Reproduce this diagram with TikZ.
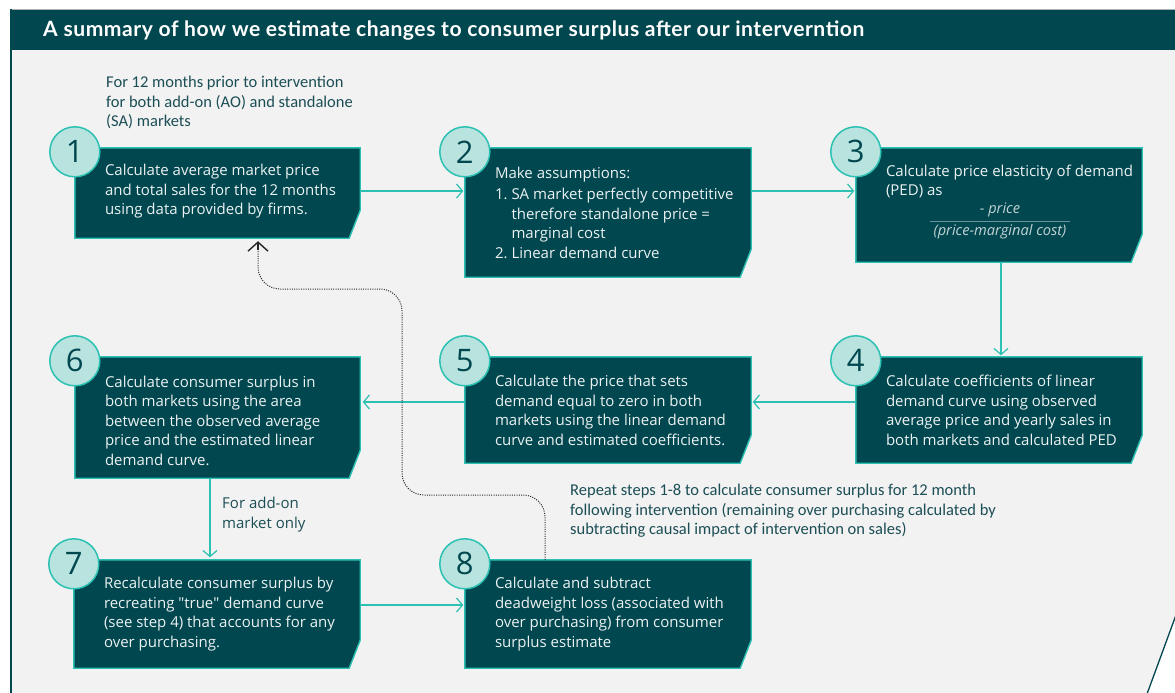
\documentclass[tikz,border=0pt]{standalone}
\usepackage{fontspec}
\setmainfont{Open Sans}
\newfontfamily\titlefont[LetterSpace=2.5]{Lato}
\newfontfamily\notefont{Carlito}
\usetikzlibrary{arrows.meta}

\definecolor{deep}{HTML}{00474F}
\definecolor{aqua}{HTML}{2CC1B3}
\definecolor{pale}{HTML}{B9E3DF}
\definecolor{panel}{HTML}{F2F2F2}
\definecolor{inktext}{HTML}{1B4E55}
\definecolor{boxtext}{HTML}{ECF2F2}
\definecolor{fractext}{HTML}{C3D3D4}

\tikzset{
  stepbox/.style={rectangle, draw=none, inner sep=0pt, minimum width=#1},
  boxshape/.style={fill=deep, draw=aqua, line width=1.4pt, line join=miter},
  numdisc/.style={circle, fill=pale, draw=aqua, line width=1.5pt, minimum size=50pt,
    inner sep=0pt, text=deep, font=\fontsize{31}{31}\selectfont},
  boxtxt/.style={anchor=west, inner sep=0pt, align=left, text=boxtext,
    font=\fontsize{15}{19.5}\selectfont},
  notetxt/.style={anchor=west, inner sep=0pt, align=left, text=inktext,
    font=\notefont\fontsize{16.5}{19.5}\selectfont},
  flow/.style={draw=aqua, line width=1.2pt, -{Straight Barb[length=6pt,width=14pt]}},
  loopback/.style={draw=black!85, line width=1pt, dash pattern=on 1pt off 1.3pt,
    rounded corners=22pt},
  loophead/.style={draw=black!85, line width=1.4pt, solid,
    -{Straight Barb[length=9pt,width=20pt]}},
}

% chamfered step box drawn on the anchors of a node
\newcommand{\cutbox}[1]{%
  \filldraw[boxshape] (#1.north west) -- (#1.north east)
    -- ([yshift=28pt]#1.south east) -- ([xshift=-11pt]#1.south east)
    -- (#1.south west) -- cycle;}

\begin{document}
\begin{tikzpicture}[x=1pt,y=-1pt]
\useasboundingbox (0,0) rectangle (1175,693);
\fill[white] (0,0) rectangle (1175,693);

% frame: header band and light panel with cut corner
\fill[panel] (10,50) -- (1175,50) -- (1175,616) -- (1147,693) -- (10,693) -- cycle;
\fill[deep] (10,9) rectangle (1175,50);
\draw[gray!60, line width=0.6pt] (10,9) -- (1175,9);
\draw[deep, line width=1.5pt] (10.8,9) -- (10.8,693);
\draw[deep, line width=1.3pt] (1176,615) -- (1147,694);
\node[anchor=west, inner sep=0pt, text=white, font=\titlefont\bfseries\fontsize{21.1}{24}\selectfont]
  (title) at (43,30.5) {A summary of how we estimate changes to consumer surplus after our interverntion};

% step boxes
\node[stepbox=285pt, minimum height=90pt]  (b1) at (217.5,193) {};
\node[stepbox=286pt, minimum height=129pt] (b2) at (608,212.5) {};
\node[stepbox=286pt, minimum height=114pt] (b3) at (999,205) {};
\node[stepbox=286pt, minimum height=106pt] (b4) at (999,410) {};
\node[stepbox=286pt, minimum height=106pt] (b5) at (608,410) {};
\node[stepbox=285pt, minimum height=121pt] (b6) at (217.5,417.5) {};
\node[stepbox=286pt, minimum height=108pt] (b7) at (217,614) {};
\node[stepbox=286pt, minimum height=108pt] (b8) at (608,614) {};
\foreach \b in {b1,b2,b3,b4,b5,b6,b7,b8} {\cutbox{\b}}

% numbered discs
\foreach \b/\n in {b1/1,b2/2,b3/3,b4/4,b5/5,b6/6,b7/7,b8/8}
  \node[numdisc] (n\n) at ([yshift=-4pt]\b.north west) {\n};

% box texts
\node[boxtxt] (t1) at ([xshift=30pt]b1.west |- 0,191.5)
  {Calculate average market price\\and total sales for the 12 months\\using data provided by firms.};
\node[boxtxt] (t2) at ([xshift=30pt]b2.west |- 0,212.5)
  {Make assumptions:\\[2pt]
   \makebox[16.5pt][l]{1.}SA market perfectly competitive\\
   \hspace*{16.5pt}therefore standalone price =\\
   \hspace*{16.5pt}marginal cost\\
   \makebox[16.5pt][l]{2.}Linear demand curve};
\node[boxtxt] (t3) at ([xshift=30pt]b3.west |- 0,181.5)
  {Calculate price elasticity of demand\\(PED) as};
\node[inner sep=0pt, text=fractext, font=\itshape\fontsize{14.6}{16}\selectfont]
  (num) at (1000,210) {- price};
\node[inner sep=0pt, text=fractext, font=\itshape\fontsize{14.6}{16}\selectfont]
  (den) at (1000,232) {(price-marginal cost)};
\draw[draw=fractext!55!deep, line width=0.6pt] (930,221) coordinate (fl) -- (1070,221) coordinate (fr);
\node[boxtxt] (t4) at ([xshift=30pt]b4.west |- 0,410.5)
  {Calculate coefficients of linear\\demand curve using observed\\average price and yearly sales in\\both markets and calculated PED};
\node[boxtxt] (t5) at ([xshift=30pt]b5.west |- 0,410.5)
  {Calculate the price that sets\\demand equal to zero in both\\markets using the linear demand\\curve and estimated coefficients.};
\node[boxtxt] (t6) at ([xshift=30pt]b6.west |- 0,420.5)
  {Calculate consumer surplus in\\both markets using the area\\between the observed average\\price and the estimated linear\\demand curve.};
\node[boxtxt] (t7) at ([xshift=30pt]b7.west |- 0,614)
  {Recalculate consumer surplus by\\recreating \textquotedbl true\textquotedbl\ demand curve\\(see step 4) that accounts for any\\over purchasing.};
\node[boxtxt] (t8) at ([xshift=30pt]b8.west |- 0,614)
  {Calculate and subtract\\deadweight loss (associated with\\over purchasing) from consumer\\surplus estimate};

% notes
\node[notetxt] (pre) at (106,102.5)
  {For 12 months prior to intervention\\for both add-on (AO) and standalone\\(SA) markets};
\node[notetxt] (rep) at (570,511)
  {Repeat steps 1-8 to calculate consumer surplus for 12 month\\following intervention (remaining over purchasing calculated by\\subtracting causal impact of intervention on sales)};
\node[anchor=west, inner sep=0pt, align=left, text=inktext, font=\fontsize{15}{19.5}\selectfont]
  (aoonly) at (222,514.5) {For add-on\\market only};

% connectors
\draw[flow] (b1.east |- 0,191) -- ([xshift=-1.5pt]b2.west |- 0,191);
\draw[flow] (b2.east |- 0,191) -- ([xshift=-1.5pt]b3.west |- 0,191);
\draw[flow] (1001,0 |- b3.south) -- ([yshift=1.5pt]1001,0 |- b4.north);
\draw[flow] (b4.west |- 0,402) -- ([xshift=1.5pt]b5.east |- 0,402);
\draw[flow] (b5.west |- 0,402) -- ([xshift=2.5pt]b6.east |- 0,402);
\draw[flow] (210,0 |- b6.south) -- ([yshift=2.5pt]210,0 |- b7.north);
\draw[flow] (b7.east |- 0,605) -- ([xshift=-1.5pt]b8.west |- 0,605);
% dotted return path from step 8 back to step 1, with a solid open head
\draw[loopback] (545,0 |- b8.north) -- (545,495) -- (402,495) -- (402,289)
  -- (258,289) -- ([yshift=-12pt]258,0 |- b1.south) coordinate (lbend);
\draw[loophead] (lbend) -- ([yshift=-3pt]258,0 |- b1.south);
\end{tikzpicture}
\end{document}
